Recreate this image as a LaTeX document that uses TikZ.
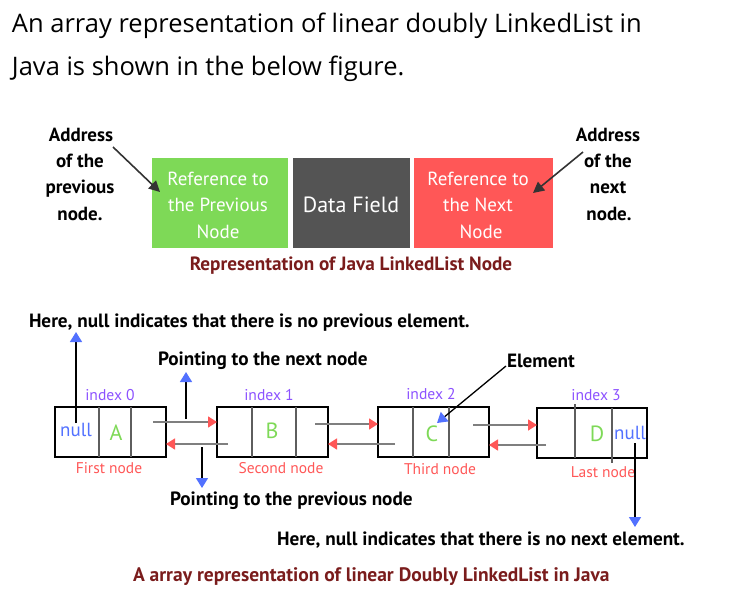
\documentclass[tikz,border=0pt]{standalone}
\usepackage{fontspec}
\setmainfont{PT Sans}
\newfontfamily\topfont{Open Sans}
\usetikzlibrary{arrows.meta}
\definecolor{gbox}{HTML}{7ED957}
\definecolor{dbox}{HTML}{545454}
\definecolor{rbox}{HTML}{FF5757}
\definecolor{bluec}{HTML}{5271FF}
\definecolor{purc}{HTML}{8C52FF}
\definecolor{darkred}{HTML}{7A1C1C}
\definecolor{lgray}{HTML}{7F7F7F}
\definecolor{divc}{HTML}{5E5E5E}
\begin{document}
\begin{tikzpicture}[x=1pt,y=-1pt,
  every node/.style={inner sep=0pt, outer sep=0pt},
  toptxt/.style={font=\topfont\fontsize{25.5}{30}\selectfont, anchor=base west},
  lbl/.style={font=\fontsize{19}{22}\selectfont\bfseries, anchor=base},
  lblw/.style={font=\fontsize{19.2}{22}\selectfont\bfseries, anchor=base west},
  boxtxt/.style={font=\fontsize{19}{22}\selectfont, text=white, anchor=base},
  idx/.style={font=\fontsize{15.6}{18}\selectfont, text=purc, anchor=base},
  nlbl/.style={font=\fontsize{15.5}{18}\selectfont, text=rbox, anchor=base},
  captxt/.style={font=\fontsize{19.2}{22}\selectfont\bfseries, text=darkred, anchor=base},
  letter/.style={font=\fontsize{22}{26}\selectfont, text=gbox, anchor=base},
  nulltxt/.style={font=\fontsize{19}{22}\selectfont, text=bluec, anchor=base},
  field/.style={minimum height=90pt},
  lnode/.style={draw=black, line width=2pt, minimum height=50pt},
  divline/.style={draw=divc, line width=1.3pt},
  link/.style={draw=lgray, line width=1.6pt, -{Triangle[width=11pt,length=9pt,color=rbox]}},
  bluearrow/.style={draw=black, line width=1.5pt, -{Triangle[width=12pt,length=10pt,color=bluec]}},
  addrarrow/.style={draw=black!80, line width=1.6pt, -{Triangle[width=11pt,length=11pt]}}
]
\useasboundingbox (0,0) rectangle (752,603);

% top text
\node[toptxt] (t1) at (12,32) {An array representation of linear doubly LinkedList in};
\node[toptxt] (t2) at (12,75) {Java is shown in the below figure.};

% node representation
\node[field, fill=gbox, minimum width=136pt] (prev) at (220,203) {};
\node[field, fill=dbox, minimum width=117pt] (data) at (351,203) {};
\node[field, fill=rbox, minimum width=139pt] (next) at (483.5,203) {};
\node[boxtxt] (p1) at (218,185) {Reference to};
\node[boxtxt] (p2) at (218,211) {the Previous};
\node[boxtxt] (p3) at (218,238) {Node};
\node[boxtxt, font=\fontsize{22}{26}\selectfont] (df) at (351,212) {Data Field};
\node[boxtxt] (r1) at (478,185) {Reference to};
\node[boxtxt] (r2) at (478,211) {the Next};
\node[boxtxt] (r3) at (481,238) {Node};

% address labels
\node[lbl] (al1) at (81,141) {Address};
\node[lbl] (al2) at (80,167) {of the};
\node[lbl] (al3) at (80,193) {previous};
\node[lbl] (al4) at (80,220) {node.};
\node[lbl] (ar1) at (608,141) {Address};
\node[lbl] (ar2) at (608,167) {of the};
\node[lbl] (ar3) at (608,193) {next};
\node[lbl] (ar4) at (609,220) {node.};
\coordinate (aps) at (113,147);
\coordinate (ape) at (160,192);
\coordinate (ans) at (583,152);
\coordinate (ane) at (533,193);
\draw[addrarrow] (aps) -- (ape);
\draw[addrarrow] (ans) -- (ane);

\node[captxt] (repcap) at (351,270) {Representation of Java LinkedList Node};

% explanatory texts
\node[lblw] (hprev) at (29,327) {Here, null indicates that there is no previous element.};
\node[lblw] (pnext) at (158,365) {Pointing to the next node};
\node[lblw] (elem) at (507,367) {Element};
\node[lblw] (pprev) at (170,505) {Pointing to the previous node};
\node[lblw] (hnext) at (277,545) {Here, null indicates that there is no next element.};
\node[captxt, anchor=base west, font=\fontsize{19.5}{22}\selectfont\bfseries] (maincap) at (133,581) {A array representation of linear Doubly LinkedList in Java};

% list nodes
\node[lnode, minimum width=111pt] (n0) at (110.5,432) {};
\node[lnode, minimum width=111pt] (n1) at (272.5,432) {};
\node[lnode, minimum width=111pt] (n2) at (433.5,432) {};
\node[lnode, minimum width=110pt] (n3) at (592,433) {};

\draw[divline] ([xshift=44pt]n0.north west) -- ([xshift=44pt]n0.south west);
\draw[divline] ([xshift=76pt]n0.north west) -- ([xshift=76pt]n0.south west);
\draw[divline] ([xshift=35pt]n1.north west) -- ([xshift=35pt]n1.south west);
\draw[divline] ([xshift=79pt]n1.north west) -- ([xshift=79pt]n1.south west);
\draw[divline] ([xshift=35pt]n2.north west) -- ([xshift=35pt]n2.south west);
\draw[divline] ([xshift=71pt]n2.north west) -- ([xshift=71pt]n2.south west);
\draw[divline] ([xshift=38pt,yshift=4pt]n3.north west) -- ([xshift=38pt]n3.south west);
\draw[divline] ([xshift=75pt]n3.north west) -- ([xshift=75pt,yshift=-5pt]n3.south west);

% cell contents
\node[nulltxt] (null0) at (76,436) {null};
\node[letter] (la) at (116,440) {A};
\node[letter] (lb) at (272,438) {B};
\node[letter] (lc) at (432,441) {C};
\node[letter] (ld) at (597,441) {D};
\node[nulltxt] (null3) at (630,439) {null};

% index and node labels
\node[idx] (i0) at (110,400) {index 0};
\node[idx] (i1) at (269,400) {index 1};
\node[idx] (i2) at (431,399) {index 2};
\node[idx] (i3) at (596,400) {index 3};
\node[nlbl] (f0) at (109,473) {First node};
\node[nlbl] (f1) at (281,473) {Second node};
\node[nlbl] (f2) at (440,474) {Third node};
\node[nlbl] (f3) at (603,477) {Last node};

% links
\coordinate (s01) at (153,422);
\coordinate (s10) at (228,444);
\coordinate (s12) at (315,424);
\coordinate (s21) at (395,444);
\coordinate (s23) at (473,425);
\coordinate (s32) at (546,445);
\draw[link] (s01) -- (s01 -| n1.west);
\draw[link] (s10) -- (s10 -| n0.east);
\draw[link] (s12) -- (s12 -| n2.west);
\draw[link] (s21) -- (s21 -| n1.east);
\draw[link] (s23) -- (s23 -| n3.west);
\draw[link] (s32) -- (s32 -| n2.east);

% blue-headed pointers
\coordinate (u0s) at (76,423);
\coordinate (u0e) at (76,332);
\coordinate (uns) at (186,419);
\coordinate (une) at (186,372);
\coordinate (dps) at (202,447);
\coordinate (dpe) at (202,488);
\coordinate (d3s) at (635,443);
\coordinate (d3e) at (635,527);
\coordinate (es) at (506,366);
\coordinate (ee) at (437,423);
\draw[bluearrow] (u0s) -- (u0e);
\draw[bluearrow] (uns) -- (une);
\draw[bluearrow] (dps) -- (dpe);
\draw[bluearrow] (d3s) -- (d3e);
\draw[bluearrow, line width=1.3pt] (es) -- (ee);
\end{tikzpicture}
\end{document}
